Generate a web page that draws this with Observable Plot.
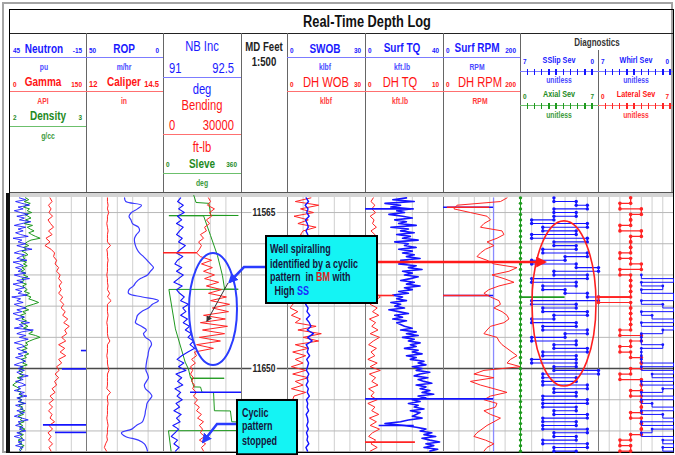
<!DOCTYPE html>
<html><head><meta charset="utf-8">
<script src="https://cdn.jsdelivr.net/npm/d3@7"></script>
<script src="https://cdn.jsdelivr.net/npm/@observablehq/plot@0.6"></script>
<style>
html,body{margin:0;padding:0;background:#fff}
#wrap{position:relative;width:675px;height:455px;overflow:hidden;background:#fff;font-family:"Liberation Sans",Arial,sans-serif}
.lb{position:absolute;white-space:nowrap;line-height:1}
.ln{position:absolute;box-sizing:border-box}
#plot{position:absolute;left:10px;top:197px}
</style></head><body><div id="wrap"></div>
<script>
// ================= DATA =================
const depthTop = 11557, depthStep = 2;   // most log curves: one reading every 2 ft
const fineTop = 11557, fineStep = 1;     // noisy curves: one reading every ft
const diagTop = 11557, diagStep = 3;     // axial / lateral severities: one reading every 3 ft
const gridDepths = [11565, 11582, 11599, 11616, 11633, 11650, 11667, 11684];
const majorDepths = [11650];
const depthLabels = [11565, 11650];

const curveNames = ["Neutron","Gamma","Density","ROP","Caliper","NB Inc","Bending","Sleve","SWOB","DH WOB","Surf TQ","DH TQ","Surf RPM","DH RPM","SSlip Sev","Axial Sev","Whirl Sev","Lateral Sev"];
const curveUnits = ["pu","API","g/cc","m/hr","in","deg","ft-lb","deg","klbf","klbf","kft.lb","kft.lb","RPM","RPM","unitless","unitless","unitless","unitless"];
const scaleLeft  = [45,0,2,50,12,91,0,0,0,0,0,0,0,0,7,0,7,0];
const scaleRight = [-15,150,3,0,14.5,92.5,30000,360,30,30,40,10,200,200,0,7,0,7];

// 1-ft readings
const neutron = [38,33,41,36,30,39,35,42,37,31,40,34,38,29,36,42,33,39,35,41,37,31,43,36,39,33,40,35,28,38,42,34,37,40,32,43,38,35,41,36,39,33,42,37,30,40,35,43,38,34,41,36,39,32,44,37,40,35,42,38,33,40,36,43,39,34,41,37,30,38,35,42,27,36,40,33,38,31,37,42,36,34,40,37,32,39,35,41,36,33,38,42,35,39,34,40,37,31,38,35,41,36,33,39,37,42,34,38,32,40,36,39,33,41,37,35,40,34,38,42,36,31,39,37,41,35,38,33,40,36,42,37,34,39,36,41,35,38,37];
const density = [2.20,2.24,2.18,2.26,2.21,2.17,2.25,2.22,2.28,2.19,2.23,2.27,2.20,2.25,2.18,2.29,2.22,2.26,2.31,2.24,2.28,2.33,2.39,2.27,2.22,2.19,2.24,2.17,2.21,2.15,2.20,2.23,2.16,2.19,2.13,2.21,2.17,2.22,2.15,2.19,2.14,2.20,2.17,2.23,2.15,2.18,2.13,2.21,2.16,2.19,2.22,2.18,2.25,2.20,2.27,2.24,2.31,2.37,2.30,2.22,2.18,2.24,2.16,2.20,2.13,2.18,2.15,2.21,2.14,2.19,2.23,2.17,2.25,2.29,2.24,2.33,2.39,2.31,2.25,2.20,2.23,2.17,2.22,2.15,2.19,2.24,2.18,2.21,2.14,2.19,2.16,2.22,2.13,2.18,2.11,2.16,2.12,2.17,2.09,2.14,2.10,2.06,2.03,2.08,2.12,2.09,2.14,2.11,2.16,2.10,2.15,2.12,2.18,2.11,2.16,2.13,2.19,2.12,2.17,2.10,2.15,2.13,2.18,2.11,2.16,2.12,2.19,2.14,2.11,2.17,2.13,2.16,2.10,2.15,2.12,2.18,2.13,2.15,2.12];
const surfTq = [21,14,25,10,18,13,23,16,20,12,19,24,15,21,17,26,13,22,18,25,16,23,19,27,15,22,20,26,17,24,19,25,21,28,18,23,17,26,22,29,19,24,20,27,23,18,25,21,28,20,24,17,22,14,19,16,21,13,18,15,20,12,17,22,15,19,14,21,16,18,20,24,18,26,21,27,19,25,22,28,23,26,20,27,24,29,21,26,23,30,27,31,24,29,26,33,28,25,32,27,30,34,26,31,28,33,29,35,27,31,24,28,22,27,25,30,23,28,26,24,29,22,18,10,20,26,31,28,34,30,36,29,33,38,31,35,30,37,33];
// 2-ft readings
const gamma = [78,82,75,80,76,83,74,79,85,75,82,70,78,68,80,87,85,91,88,95,91,98,95,101,96,100,95,103,98,105,100,108,103,113,105,116,107,111,101,109,95,107,98,109,95,101,91,96,88,95,87,91,82,88,78,85,76,83,75,82,78,87,76,83,74,80,75,83,76,80];
const rop = [25.3,24.5,14.3,16.9,20.8,22.4,21.1,20.1,16.3,15.6,17.6,18.8,18.8,18.2,17.2,15.6,13,10.7,8.5,6.5,8.5,10.4,15,17.9,19.5,22.4,22.7,13.7,3.3,7.2,9.8,14.3,16.9,17.6,18.2,14.3,11.1,13,11.7,8.5,7.8,9.1,9.8,10.1,10.7,11.1,11.4,11.4,10.4,9.8,11.1,12.4,11.7,9.1,7.5,9.1,10.7,11.1,11.7,12,12.7,13.7,17.6,20.6,27.3,24.7,16.3,12.4,11.1,10.4];
const caliper = [12.68,12.68,12.7,12.68,12.72,12.68,12.68,12.66,12.68,12.7,12.68,12.68,12.68,12.78,12.66,12.68,12.68,12.7,12.68,12.68,12.68,12.66,12.68,12.68,12.7,12.68,12.75,12.68,12.8,12.68,12.68,12.68,12.7,12.68,12.66,12.68,12.68,12.68,12.7,12.76,12.68,12.68,12.68,12.66,12.68,12.68,12.7,12.73,12.68,12.68,12.68,12.68,12.66,12.78,12.68,12.68,12.7,12.68,12.68,12.68,12.66,12.68,12.7,12.68,12.68,12.66,12.68,12.62,12.58,12.65];
const nbInc = [91.33,91.27,91.38,91.29,91.40,91.27,91.35,91.25,91.38,91.31,91.25,91.36,91.29,91.42,91.33,91.25,91.37,91.27,91.22,91.35,91.25,91.38,91.29,91.20,91.36,91.25,91.31,91.40,91.33,91.48,91.37,91.43,91.33,91.46,91.38,91.50,91.42,91.54,91.47,91.58,91.51,91.60,91.47,91.35,91.26,91.39,91.29,91.43,91.24,91.35,91.27,91.37,91.22,91.33,91.26,91.36,91.24,91.31,91.20,91.34,91.25,91.32,91.18,91.29,91.22,91.15,91.27,91.20,91.30,91.23];
const bending = [17300,18100,16900,19600,17700,18500,16500,17700,15800,16500,14200,15400,13500,14600,13800,12700,14200,18500,14600,18800,15400,19600,15800,21200,16500,22300,17300,24200,18100,25400,18800,25000,15400,23800,14200,24600,15000,23500,13800,21900,12700,19200,11900,12700,10800,12300,10400,11200,10400,11500,10800,11900,11200,12700,11500,13100,11900,13800,12700,14600,13100,15400,13800,15000,14200,15800,13800,16200,14600,15400];
const swob = [7.2,8.1,6.8,7.9,7.4,8.3,6.9,7.6,8.0,7.1,7.8,7.3,8.2,7.0,7.7,7.4,8.0,7.2,7.6,7.9,7.3,7.8,7.1,7.5,8.0,7.2,7.7,7.4,8.1,7.0,7.9,7.5,8.6,7.3,8.4,9.0,7.6,10.0,7.8,9.5,7.2,8.0,7.6,8.5,7.4,8.1,7.7,7.3,8.2,7.5,7.9,7.2,8.0,7.6,8.4,7.3,7.8,7.5,8.1,7.2,7.7,7.9,7.4,8.0,7.3,7.8,7.5,8.2,7.1,7.7];
const dhWob = [9,3,12,5,10,2.5,8,4,11,6,5,8,4,9,6,7,3,8,5,9,4,7,6,8,3,7,5,9,4,2,1,4,1.5,5,3,11,4,13,6,12,3,8,2,7,3,6,1.5,7,2,8,3,6,1.5,7,2.5,2,1.5,3,1,2.5,2,1.5,3,2,1,2.5,1.5,3,2,1.5];
const dhTq = [1.0,0.7,1.2,0.8,1.3,0.6,1.1,0.9,1.4,0.7,1.2,1.0,1.3,0.8,1.1,0.9,1.2,0.7,1.0,1.3,0.8,1.1,0.9,1.2,0.7,1.0,1.4,1.9,1.2,0.6,1.5,0.9,1.7,0.5,1.3,0.8,1.6,0.6,1.8,1.0,0.4,1.4,0.7,1.2,0.3,1.5,0.6,1.9,0.5,1.3,0.8,1.6,0.4,1.1,0.7,1.5,0.3,1.2,0.8,1.7,0.5,1.4,0.6,1.8,0.9,0.4,1.3,0.7,1.5,0.6];
const surfRpm = [130,130,130,130,130,130,130,130,130,130,130,130,130,130,130,130,130,130,130,130,130,130,130,130,130,130,130,130,130,130,130,130,130,130,130,130,130,130,130,130,130,130,130,130,130,130,130,130,130,130,130,130,130,130,130,130,130,130,130,130,130,130,130,130,130,130,130,130,130,130];
const dhRpm = [165,148,35,27,70,113,122,105,96,152,157,139,113,131,109,96,87,113,131,191,170,126,157,183,144,118,105,122,144,148,131,152,165,170,157,122,113,105,139,144,152,165,178,191,174,165,200,105,79,131,70,96,131,165,122,105,139,135,105,122,148,131,113,100,87,79,109,131,113,105];
const sslipSev = [4,2,1,4,2,4,6,1,5,2,6,1,4,2,5,1,3,6,2,0,4,1,6,2,5,3,1,0,6,2,5,1,4,6,2,5,1,3,6,2,4,1,5,2,6,2,4,0,5,2,5,1,4,2,5,1,5,2,4,1,5,2,5,1,4,2,5,1,4,2];
const whirlSev = [null,null,null,null,null,null,null,null,null,null,null,null,null,null,null,null,null,null,null,null,null,3,0,3,1,3,0,0,3,1,0,3,2,0,3,0,1,3,3,3,1,3,3,3,3,0,3,0,2,0,3,0,1,3,0,3,2,0,3,1,0,3,0,2,3,0,1,0,1,0];
// Sleve steps (depth, deg)
const sleveDepth = [11555.7,11559.5,11560,11566.5,11566.6,11566.7,11566.8,11577.5,11588.4,11599.3,11606.7,11606.8,11606.9,11628.4,11646.5,11650.2,11655.2,11655.3,11655.4,11660,11660.1,11663,11663.1,11673,11673.1,11679,11679.1,11683.8,11683.9,11695];
const sleveValue = [140,150,210,218,345,25,185,217,249,272,282,345,25,55,100,115,125,280,128,140,171,178,231,235,309,315,340,342,23,35];
// 3-ft severities
const axialSev = [0,0,0,0,0,0,0,0,0,0,0,0,0,0,0,0,0,0,0,0,0,0,0,0,0,0,0,0,0,0,0,0,0,0,0,0,0,0,0,0,0,0,0,0,0,0,0];
const lateralSev = [3,2,4,3,3,2,4,3,3,3,2,3,4,2,3,3,3,3,0,3,3,3,3,3,2,4,3,2,3,4,4,3,2,4,4,3,4,4,4,3,4,4,4,3,2,3,2];

// short excursions drawn as horizontal lines: curve index, depth, from value, to value
const spikeCurve = [0,0,0,0,5,6,10,10,10,12,12,12,13,13,11,11,15,17];
const spikeDepth = [11640.2,11650.2,11680.7,11684.8,11662.9,11586.9,11563,11666.5,11681,11562.1,11610.2,11666.5,11562.1,11610.2,11610.2,11690.1,11611.1,11611.1];
const spikeFrom  = [-11,4,19,9.5,91.52,13000,25,40,25,130,130,130,120,120,1.5,0,0,0];
const spikeTo    = [-15,-15,-15,-15,92.5,0,0,0,7,0,0,0,10,0,3.7,6.4,4,3];

// ================= LAYOUT / STYLE =================
const SX = 0.8; // condensed lettering
const T = [[10,86],[86,163],[163,241],[241,287],[287,365],[365,443],[443,520],[520,598],[598,673]];
const curveTrack = [0,0,0,1,1,2,2,2,4,4,5,5,6,6,7,7,8,8];
const curveColor = ["blue","red","green","blue","red","blue","red","green","blue","red","blue","red","blue","red","blue","green","blue","red"];
const nameY = [49,82,116,49,82,46,105,164,49,82,48,82,48,82,60,94,60,94];
const endY  = [51,85,118,51,84,68,125,165,51,85,51,85,51,85,62,97,62,97];
const lineY = [57,91,126,57,91,77,134,173,57,91,57,91,57,91,71,105,71,105];
const unitY = [67,101,136,67,101,89,147,183,67,101,67,101,67,101,80,115,80,115];
const nameKind = ["b","b","b","b","b","r","r","b","b","r","b","r","b","r","s","s","s","s"];
const endKind  = ["s","s","s","s","m","r","r","s","s","s","s","s","s","s","s","s","s","s"];
const nameDx = [-4,-5,0,-1,-1,0,0,0,-1,0,-2,-4,-5,-2,0,0,0,0];
const pal = {
  blue:{text:"#1a1aff",unit:"#4a4aff",line:"#7c7cff",curve:"#1414ff"},
  red:{text:"#ff1414",unit:"#ff3c3c",line:"#ff7070",curve:"#ff2424"},
  green:{text:"#1e8a1e",unit:"#3c9a3c",line:"#6cc06c",curve:"#1f9a1f"}
};

const wrap = document.getElementById("wrap");
function box(x,y,w,h,css){const d=document.createElement("div");d.className="ln";d.style.cssText=`left:${x}px;top:${y}px;width:${w}px;height:${h}px;${css}`;wrap.appendChild(d);return d;}
function label(text,x,y,anchor,css){const d=document.createElement("div");d.className="lb";d.textContent=text;
  const tx=anchor==="middle"?"-50%":anchor==="end"?"-100%":"0";const ox=anchor==="middle"?"50%":anchor==="end"?"100%":"0%";
  d.style.cssText=`left:${x}px;top:${y}px;transform-origin:${ox} 50%;transform:translate(${tx},-50%) scaleX(${SX});${css}`;wrap.appendChild(d);return d;}

// frame
box(2,2,671,451,"border:2px solid #a4a4a4");
box(9,9,665,444,"border:1.5px solid #000");
box(10,33,663,1,"background:#222");
box(10,192,663,1,"background:#555");
box(10,193,663,4,"background:#d4d4d4");
box(6,193,4,260,"background:#111");
[86,163,241,287,365,443,520].forEach(x=>box(x,33,1,159,"background:#666"));
box(598,50,1,142,"background:#666");

label("Real-Time Depth Log",367,22,"middle","font-weight:bold;font-size:16px;color:#111");
label("MD Feet",264,47,"middle","font-weight:bold;font-size:12px;color:#222");
label("1:500",264,62,"middle","font-weight:bold;font-size:12px;color:#222");
label("Diagnostics",597,43,"middle","font-weight:bold;font-size:10px;color:#333");

curveNames.forEach((name,ci)=>{
  const [a,b]=T[curveTrack[ci]];
  const col=pal[curveColor[ci]];
  const cx=(a+b)/2+nameDx[ci];
  const nk=nameKind[ci];
  const nameCss=nk==="b"?"font-weight:bold;font-size:12.5px":nk==="r"?"font-size:14px":"font-weight:bold;font-size:9px";
  label(name,cx,nameY[ci],"middle",`${nameCss};color:${col.text}`);
  const ek=endKind[ci];
  const endCss=ek==="r"?"font-size:14px":ek==="m"?"font-weight:bold;font-size:9.5px":"font-weight:bold;font-size:8px";
  const pad=ek==="r"?6:3;
  label(String(scaleLeft[ci]),a+pad,endY[ci],"start",`${endCss};color:${col.text}`);
  label(String(scaleRight[ci]),b-pad-1,endY[ci],"end",`${endCss};color:${col.text}`);
  box(a,lineY[ci]-0.5,b-a,1.5,`background:${col.line}`);
  if(ci>=14){for(let k=0;k<10;k++)box(a+6.5+k*7.2,lineY[ci]-2.5,1.5,6,`background:${col.curve}`);}
  const big=(ci===5||ci===6);
  label(curveUnits[ci],cx,unitY[ci],"middle",`${big?"font-size:14px":"font-weight:bold;font-size:8.5px"};color:${big?col.text:col.unit}`);
});

// ================= PLOT =================
const px=(ci,v)=>{const [a,b]=T[curveTrack[ci]];return a+(v-scaleLeft[ci])/(scaleRight[ci]-scaleLeft[ci])*(b-a);};
const series=(ci,vals,top,step)=>vals.map((v,i)=>({d:top+i*step,x:v==null?NaN:px(ci,v)}));
const log=(ci,vals)=>series(ci,vals,depthTop,depthStep);
const fine=(ci,vals)=>series(ci,vals,fineTop,fineStep);
const diag=(ci,vals)=>series(ci,vals,diagTop,diagStep);
const stepDots=rows=>rows.flatMap((r,i)=>isNaN(r.x)?[]:(i>0&&!isNaN(rows[i-1].x)?[r,{d:r.d,x:rows[i-1].x}]:[r]));

const gridX=[];
[0,1,2,4,5,6].forEach(t=>{const [a,b]=T[t];for(let k=1;k<5;k++)gridX.push(a+(b-a)*k/5);});
[7,8].forEach(t=>{const [a,b]=T[t];for(let k=1;k<7;k++)gridX.push(a+(b-a)*k/7);});
const borders=[86,163,241,287,365,443,520,598];

const spikes=spikeCurve.map((ci,i)=>({d:spikeDepth[i],x1:px(ci,spikeFrom[i]),x2:px(ci,spikeTo[i]),c:pal[curveColor[ci]].curve}));
const curveLine=(rows,ci,w=1,extra={})=>Plot.line(rows,{x:"x",y:"d",stroke:pal[curveColor[ci]].curve,strokeWidth:w,strokeLinejoin:"round",...extra});
const sslipRows=log(14,sslipSev), whirlRows=log(16,whirlSev), axialRows=diag(15,axialSev), latRows=diag(17,lateralSev);

const FONT='"Liberation Sans",Arial,sans-serif';
function notes(index,{x,y}){
  const g=d3.create("svg:g");
  const defs=g.append("defs");
  const mk=(id,color,s)=>defs.append("marker").attr("id",id).attr("viewBox","0 0 10 10").attr("refX",8).attr("refY",5)
    .attr("markerWidth",s).attr("markerHeight",s).attr("orient","auto").attr("markerUnits","userSpaceOnUse")
    .append("path").attr("d","M0,0L10,5L0,10z").attr("fill",color);
  mk("ahBlue","#2a3cff",10); mk("ahRed","#ff1a1a",11); mk("ahGray","#333",6);
  depthLabels.forEach(d=>g.append("text").attr("transform",`translate(${x(264)},${y(d)}) scale(${SX},1)`).attr("text-anchor","middle").attr("dy","0.36em")
    .attr("font-family",FONT).attr("font-weight","bold").attr("font-size",10.5).attr("fill","#222").attr("stroke","#fff").attr("stroke-width",4).attr("paint-order","stroke").text(String(d)));
  const el=(cx,cy,rx,ry,c,w)=>g.append("ellipse").attr("cx",x(cx)).attr("cy",y(cy)).attr("rx",x(rx)-x(cx)).attr("ry",y(ry)-y(cy)).attr("fill","none").attr("stroke",c).attr("stroke-width",w);
  el(213,11617.84,237,11648.35,"#2a3cff",2);
  el(564,11614.8,596,11659.8,"#ff2020",1.6);
  const pl=(pts,c,w,m)=>g.append("polyline").attr("points",pts.map(p=>x(p[0])+","+y(p[1])).join(" ")).attr("fill","none").attr("stroke",c).attr("stroke-width",w).attr("marker-end",`url(#${m})`);
  pl([[266,11594.95],[244,11594.95],[229.5,11603.2]],"#2a3cff",2.5,"ahBlue");
  pl([[228,11603.67],[207,11624.38]],"#333",1,"ahGray");
  pl([[237,11680.5],[217,11680.5],[203,11690.3]],"#2a3cff",2.5,"ahBlue");
  pl([[377,11592.22],[545,11592.22]],"#ff1a1a",2.5,"ahRed");
  const rect=(x1,d1,x2,d2)=>g.append("rect").attr("x",x(x1)).attr("y",y(d1)).attr("width",x(x2)-x(x1)).attr("height",y(d2)-y(d1)).attr("fill","#14f4f4").attr("stroke","#000").attr("stroke-width",2);
  rect(266,11578.05,377,11614.56);
  rect(237,11667.4,297,11697);
  const txt=(x0,d,parts)=>{const t=g.append("text").attr("transform",`translate(${x(x0)},${y(d)}) scale(0.75,1)`).attr("text-anchor","start").style("white-space","pre")
    .attr("font-family",FONT).attr("font-weight","bold").attr("font-size",12).attr("fill","#14143c");
    parts.forEach(p=>{const s=t.append("tspan").text(p[0]);if(p[1])s.attr("fill",p[1]);});};
  txt(270,11587.5,[["Well spiralling"]]);
  txt(270,11595.4,[["identified by a cyclic"]]);
  txt(270,11602.8,[["pattern  in "],["BM","#e02020"],[" with"]]);
  txt(272,11610.4,[[" High "],["SS","#1a2aff"]]);
  txt(242,11676.7,[["Cyclic"]]);
  txt(242,11684,[["pattern"]]);
  txt(242,11691.8,[["stopped"]]);
  return g.node();
}

const chart=Plot.plot({
  width:663,height:254,margin:0,
  style:{background:"#fff",overflow:"visible"},
  x:{domain:[10,673],axis:null},
  y:{domain:[11556.8,11695.2],reverse:true,axis:null},
  marks:[
    Plot.ruleX(gridX,{stroke:"#cfcfcf",strokeWidth:1}),
    Plot.ruleY(gridDepths,{stroke:"#b8b8b8",strokeWidth:1}),
    Plot.ruleY(majorDepths,{stroke:"#4a4a4a",strokeWidth:1.6}),
    Plot.ruleX(borders,{stroke:"#7a7a7a",strokeWidth:1}),
    curveLine(log(1,gamma),1,1),
    curveLine(fine(2,density),2,1),
    curveLine(fine(0,neutron),0,1,{strokeOpacity:0.85}),
    curveLine(log(4,caliper),4,1),
    curveLine(log(3,rop),3,1.2,{curve:"catmull-rom",stroke:"#3a3aff"}),
    curveLine(sleveDepth.map((d,i)=>({d,x:px(7,sleveValue[i])})),7,1),
    curveLine(log(6,bending),6,1),
    curveLine(log(5,nbInc),5,1.1),
    curveLine(log(9,dhWob),9,1),
    curveLine(log(8,swob),8,1.4),
    curveLine(log(11,dhTq),11,1),
    curveLine(fine(10,surfTq),10,1.6),
    curveLine(log(12,surfRpm),12,1.3,{stroke:"#8a8aff"}),
    curveLine(log(13,dhRpm),13,1),
    Plot.ruleY(spikes,{y:"d",x1:"x1",x2:"x2",stroke:"c",strokeWidth:1.6}),
    curveLine(axialRows,15,1,{curve:"step-before"}),
    Plot.dot(axialRows,{x:"x",y:"d",r:1.7,fill:pal.green.curve}),
    curveLine(sslipRows,14,1.1,{curve:"step-before"}),
    Plot.dot(stepDots(sslipRows),{x:"x",y:"d",r:1.7,fill:pal.blue.curve}),
    curveLine(latRows,17,1.2,{curve:"step-before"}),
    Plot.dot(stepDots(latRows),{x:"x",y:"d",r:1.8,fill:pal.red.curve}),
    curveLine(whirlRows,16,1,{curve:"step-before"}),
    Plot.dot(whirlRows.filter(r=>!isNaN(r.x)&&r.x<668),{x:"x",y:"d",r:1.4,fill:pal.blue.curve}),
    notes
  ]
});
const holder=document.createElement("div");holder.id="plot";holder.appendChild(chart);wrap.appendChild(holder);
</script></body></html>
